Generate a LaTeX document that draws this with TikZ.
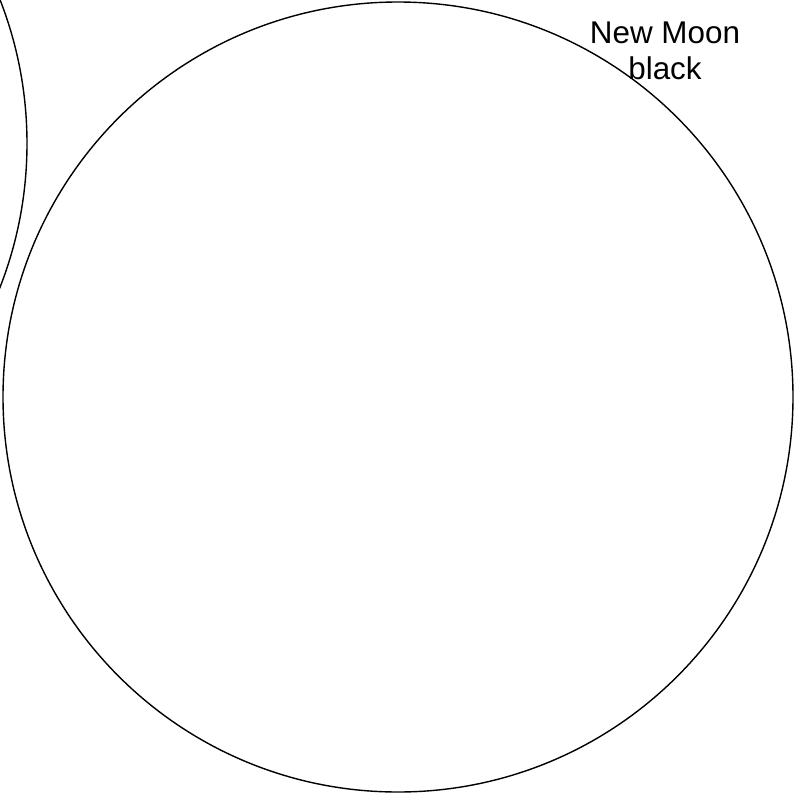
\documentclass[tikz,border=0pt]{standalone}
\usepackage{fontspec}
\setmainfont{Liberation Sans}
\usetikzlibrary{positioning}
\tikzset{
  moon/.style={draw, circle, line width=1.4pt, minimum size=790pt, inner sep=0pt},
  phaselabel/.style={font=\fontsize{31.4}{36}\selectfont, align=center, inner sep=0pt}
}
\begin{document}
\begin{tikzpicture}[x=1pt, y=-1pt]
  \useasboundingbox (0,0) rectangle (795,793);
  \begin{scope}
    \clip (0,0) rectangle (795,793);
    \node[moon] (prevmoon) at (-368,143.5) {};
  \end{scope}
  \node[moon] (newmoon) at (398,397) {};
  \node[phaselabel] (newlabel) at (665,51) {New Moon\\black};
\end{tikzpicture}
\end{document}
